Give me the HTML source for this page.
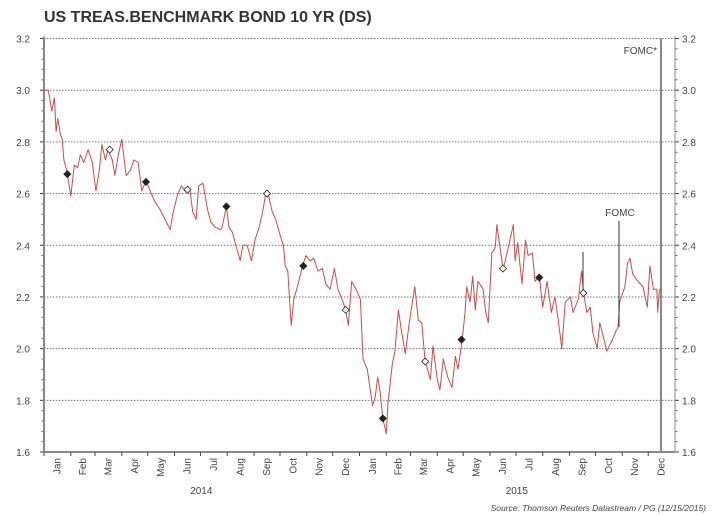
<!DOCTYPE html>
<html><head><meta charset="utf-8">
<style>
html,body{margin:0;padding:0;background:#fff;}
svg{display:block;font-family:"Liberation Sans",sans-serif;}
</style></head>
<body>
<svg id="chart" width="718" height="516" viewBox="0 0 718 516" xmlns="http://www.w3.org/2000/svg">
<text x="44" y="22" font-size="16" font-weight="bold" fill="#333">US TREAS.BENCHMARK BOND 10 YR (DS)</text>
<g id="grid"></g><g id="axes"></g><g id="series"></g><g id="marks"></g>
<text x="706" y="511" font-size="8.5" font-style="italic" fill="#444" text-anchor="end">Source: Thomson Reuters Datastream / PG (12/15/2015)</text>
</svg>
<script>
const days=[0,5,9,12,14,16,19,21,23,27,31,35,39,42,46,51,56,60,64,67,71,74,79,82,86,90,95,100,104,109,113,118,123,128,134,140,146,149,154,159,163,169,172,176,179,184,189,193,198,204,206,211,214,218,222,227,230,235,240,244,249,253,257,260,264,268,273,277,279,282,286,289,294,299,303,308,312,317,322,326,331,336,340,346,349,352,356,361,366,369,374,380,383,386,389,392,396,398,403,406,410,413,418,423,429,433,437,441,447,450,455,458,462,467,472,476,479,484,487,489,493,496,499,502,508,511,514,518,522,524,528,531,533,537,543,545,548,553,557,560,565,568,573,577,582,587,591,595,599,603,609,612,618,622,624,628,632,635,640,643,649,651,657,662,664,666,672,675,678,681,687,693,698,701,705,709,710,712];
const yields=[3.0,3.0,2.92,2.97,2.84,2.89,2.83,2.81,2.73,2.68,2.59,2.71,2.70,2.75,2.72,2.77,2.72,2.61,2.69,2.79,2.73,2.77,2.73,2.67,2.75,2.81,2.67,2.69,2.73,2.72,2.61,2.65,2.61,2.57,2.54,2.50,2.46,2.52,2.59,2.63,2.61,2.61,2.53,2.50,2.63,2.64,2.54,2.49,2.47,2.46,2.47,2.55,2.47,2.45,2.40,2.34,2.40,2.40,2.34,2.42,2.47,2.53,2.61,2.59,2.53,2.50,2.44,2.40,2.32,2.30,2.09,2.19,2.25,2.32,2.36,2.34,2.35,2.30,2.31,2.25,2.23,2.31,2.23,2.18,2.15,2.09,2.26,2.23,2.19,1.96,1.92,1.78,1.81,1.89,1.83,1.73,1.67,1.79,1.94,1.99,2.15,2.08,1.98,2.11,2.24,2.11,2.10,1.95,1.88,2.01,1.88,1.84,1.96,1.89,1.85,1.97,1.92,2.04,2.14,2.24,2.18,2.28,2.15,2.26,2.23,2.14,2.10,2.37,2.39,2.48,2.38,2.31,2.33,2.39,2.48,2.34,2.41,2.25,2.42,2.36,2.37,2.26,2.28,2.16,2.26,2.14,2.20,2.11,2.00,2.18,2.20,2.14,2.19,2.30,2.22,2.14,2.16,2.06,2.00,2.10,2.02,1.99,2.03,2.07,2.08,2.18,2.24,2.33,2.35,2.29,2.26,2.24,2.16,2.32,2.23,2.23,2.14,2.23];
const markerDays=[27,76,118,166,211,258,300,349,392,441,483,531,573,624];
const markerVals=[2.675,2.77,2.645,2.615,2.55,2.60,2.32,2.15,1.73,1.95,2.035,2.31,2.275,2.215];
const yTicks=[1.6,1.8,2.0,2.2,2.4,2.6,2.8,3.0,3.2];
const months=["Jan","Feb","Mar","Apr","May","Jun","Jul","Aug","Sep","Oct","Nov","Dec"];
const monthStartDays=[0,31,59,90,120,151,181,212,243,273,304,334];
const years=["2014","2015"];

const NS="http://www.w3.org/2000/svg";
const X0=44,X1=675,Y0=452,YT=38.5;
const xs=d=>X0+d*(X1-X0)/730;
const ys=v=>Y0-(v-1.6)*(Y0-YT)/1.6;
function el(tag,attrs,parent,txt){const e=document.createElementNS(NS,tag);for(const k in attrs)e.setAttribute(k,attrs[k]);if(txt!==undefined)e.textContent=txt;parent.appendChild(e);return e;}
const grid=document.getElementById('grid'),axes=document.getElementById('axes'),series=document.getElementById('series'),marks=document.getElementById('marks');

yTicks.forEach(v=>{
  const y=ys(v);
  if(v>1.61){const g=el('line',{x1:X0,x2:X1,y1:y,y2:y,stroke:'#777','stroke-dasharray':'1.5,1.5','stroke-width':1},grid);
  
  }
  const t1=el('text',{x:30,y:y+4,'font-size':10,fill:'#444','text-anchor':'end'},axes,v.toFixed(1));
  
  
  const t2=el('text',{x:682,y:y+4,'font-size':10,fill:'#444'},axes,v.toFixed(1));
  
  
  el('line',{x1:X0-4,x2:X0,y1:y,y2:y,stroke:'#444','stroke-width':1},axes);
  el('line',{x1:X1,x2:X1+4,y1:y,y2:y,stroke:'#444','stroke-width':1},axes);
});
for(let v=1.6;v<3.2;v+=0.04){const y=ys(v);
  el('line',{x1:X0-2.5,x2:X0,y1:y,y2:y,stroke:'#444','stroke-width':0.8},axes);
  el('line',{x1:X1,x2:X1+2.5,y1:y,y2:y,stroke:'#444','stroke-width':0.8},axes);}
const la=el('line',{x1:X0,x2:X0,y1:YT-2,y2:Y0,stroke:'#888','stroke-width':2},axes);


const ra=el('line',{x1:X1,x2:X1,y1:YT-2,y2:Y0,stroke:'#888','stroke-width':1},axes);


const xa=el('line',{x1:X0,x2:X1,y1:Y0,y2:Y0,stroke:'#888','stroke-width':2},axes);



years.forEach((yr,yi)=>{
  months.forEach((m,mi)=>{
    const d=yi*365+monthStartDays[mi];
    const x=xs(d);
    el('line',{x1:x,x2:x,y1:Y0,y2:Y0+4,stroke:'#444','stroke-width':1},axes);
    const nd=mi<11?yi*365+monthStartDays[mi+1]:(yi+1)*365;
    const cx=(x+xs(nd))/2;
    const t=el('text',{x:0,y:0,'font-size':10,fill:'#444','text-anchor':'end',transform:`translate(${cx+3},${Y0+6}) rotate(-90)`},axes,m);
    
    
  });
  const yt=el('text',{x:xs(yi*365+182),y:494,'font-size':10,fill:'#444','text-anchor':'middle'},axes,yr);
  
  
});

const fl=el('line',{x1:661,x2:661,y1:YT,y2:Y0,stroke:'#888','stroke-width':2},marks);


const ft=el('text',{x:657,y:54,'font-size':10,fill:'#444','text-anchor':'end'},marks,'FOMC*');



let dstr='';
days.forEach((d,i)=>{dstr+=(i?'L':'M')+xs(d).toFixed(1)+','+ys(yields[i]).toFixed(1);});
const p=el('path',{d:dstr,fill:'none',stroke:'#c0504d','stroke-width':1,'stroke-linejoin':'round'},series);



const l1=el('line',{x1:583,x2:583,y1:252,y2:292,stroke:'#333','stroke-width':1},marks);


const l2=el('line',{x1:619,x2:619,y1:221,y2:327,stroke:'#333','stroke-width':1},marks);


const t3=el('text',{x:620,y:216,'font-size':10,fill:'#444','text-anchor':'middle'},marks,'FOMC');



markerDays.forEach((d,i)=>{
  const x=xs(d),y=ys(markerVals[i]);
  const m=el('path',{d:`M${x},${y-3.5}L${x+3.5},${y}L${x},${y+3.5}L${x-3.5},${y}Z`,fill:i%2?'#fff':'#222',stroke:'#222','stroke-width':0.8},marks);
  
  
});
</script>
</body></html>
